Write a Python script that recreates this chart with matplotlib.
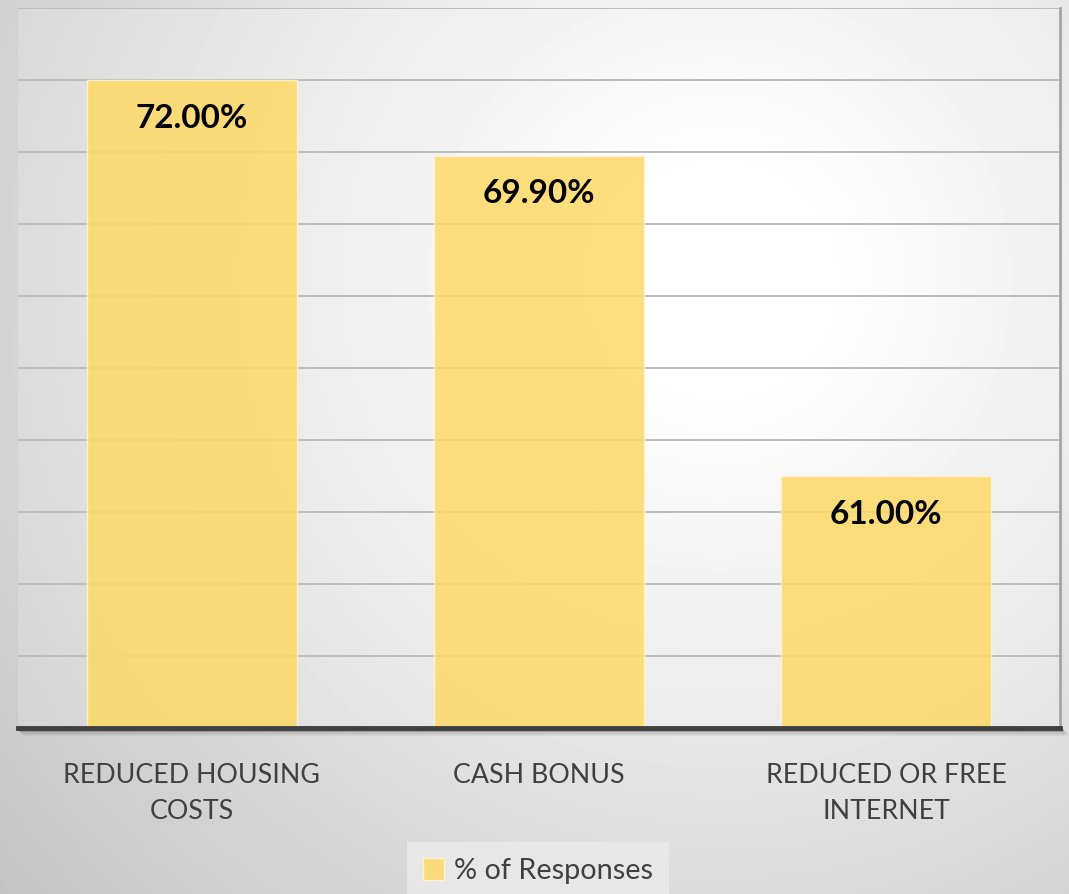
import numpy as np
import matplotlib
matplotlib.use('Agg')
import matplotlib.pyplot as plt
import matplotlib.transforms as mtransforms
from matplotlib.patches import Patch

# DATA
categories = ['REDUCED HOUSING\nCOSTS', 'CASH BONUS', 'REDUCED OR FREE\nINTERNET']
values = [72.0, 69.9, 61.0]
series_name = '% of Responses'

BAR_COLOR = '#FFD966'
plt.rcParams['font.family'] = ['Lato', 'DejaVu Sans']

W, H = 1069, 894
fig = plt.figure(figsize=(W / 100, H / 100), dpi=100)

# nền gradient toàn hình
bg = fig.add_axes([0, 0, 1, 1], zorder=-10)
yy, xx = np.mgrid[0:H, 0:W]
r = np.hypot(xx - 720, yy - 280) / 900
shade = 1 - 0.22 * np.clip((r - 0.12) / 0.88, 0, 1.2)
bg.imshow(shade, cmap='gray', vmin=0, vmax=1, extent=[0, 1, 0, 1], aspect='auto')
bg.axis('off')

ax = fig.add_axes([18 / W, (H - 728) / H, (1060 - 18) / W, (728 - 8) / H])
ax.set_facecolor('none')

# vùng vẽ sáng hơn một chút
ph, pw = 240, 340
py, px = np.mgrid[0:ph, 0:pw]
pr = np.hypot(px / pw * 1042 - 700, py / ph * 720 - 270) / 850
pshade = 1 - 0.17 * np.clip((pr - 0.12) / 0.88, 0, 1.2)
ax.imshow(pshade, cmap='gray', vmin=0, vmax=1, extent=[-0.5, 2.5, 54, 74],
          aspect='auto', zorder=0)

x = np.arange(len(categories))
ax.bar(x, values, width=0.605, color=BAR_COLOR, alpha=0.85,
       edgecolor='#FFF4D6', linewidth=1, zorder=3)

for xi, v in zip(x, values):
    ax.annotate(f'{v:.2f}%', (xi, v), xytext=(0, -27.5), textcoords='offset points',
                ha='center', va='center', fontsize=24, fontweight='bold',
                color='black', zorder=5)

ax.set_xlim(-0.5, 2.5)
ax.set_ylim(54, 74)
ax.set_yticks(np.arange(54, 75, 2))
ax.yaxis.grid(True, color='#BDBDBD', linewidth=1.4, zorder=1)
ax.set_axisbelow(True)
ax.tick_params(axis='y', left=False, labelleft=False)
ax.set_xticks(x)
ax.set_xticklabels(categories, fontsize=19.3, color='#404040', linespacing=1.55)
ax.tick_params(axis='x', bottom=False, pad=22)

for s in ['left', 'top']:
    ax.spines[s].set_visible(False)
ax.spines['right'].set_color('#A6A6A6')
ax.spines['right'].set_linewidth(2)
ax.spines['bottom'].set_color('#404040')
ax.spines['bottom'].set_linewidth(3.5)
ax.spines['bottom'].set_zorder(6)

# bóng dưới trục x
for k, a in [(2, 0.25), (4, 0.12), (6, 0.05)]:
    off = mtransforms.offset_copy(ax.transAxes, fig=fig, x=k * 0.72, y=-k * 0.72, units='points')
    ax.plot([0, 1], [0, 0], transform=off, color='black', alpha=a, lw=2,
            clip_on=False, zorder=2)

leg = fig.legend(handles=[Patch(facecolor=BAR_COLOR, alpha=0.85, edgecolor='#FFF4D6')],
                 labels=[series_name], loc='center',
                 bbox_to_anchor=(538 / W, (H - 871) / H), fontsize=20.8,
                 frameon=True, fancybox=False, handlelength=0.75, handleheight=0.75,
                 handletextpad=0.35, borderpad=0.55)
leg.get_frame().set_facecolor('#EBEBEB')
leg.get_frame().set_edgecolor('none')
leg.get_frame().set_alpha(0.8)
for t in leg.get_texts():
    t.set_color('#404040')

fig.savefig('out.png', dpi=100)
